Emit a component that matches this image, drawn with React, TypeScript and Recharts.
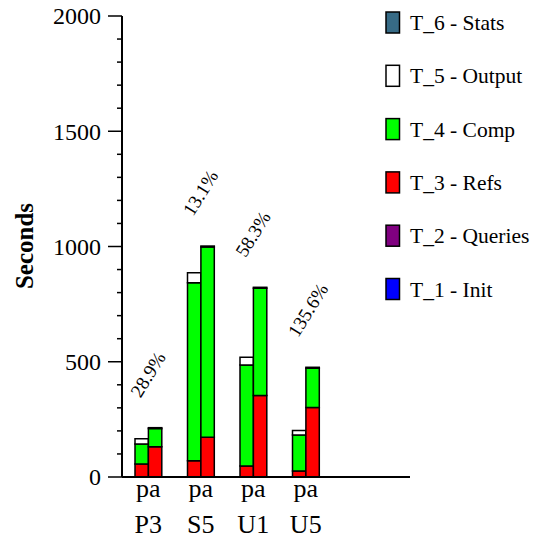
import React from 'react';
import { BarChart, Bar, XAxis, YAxis, LabelList, Label } from 'recharts';

// Benchmark categories; each has a "p" run and an "a" run stacked side by side.
const categories = ['P3', 'S5', 'U1', 'U5'];
const runTags = 'pa';

// Seconds per task for the "p" run
const pInit = [0, 0, 0, 0];
const pQueries = [0, 0, 0, 0];
const pRefs = [56, 71, 48, 26];
const pComp = [87, 772, 438, 156];
const pOutput = [23, 43, 34, 20];
const pStats = [0, 0, 0, 0];

// Seconds per task for the "a" run
const aInit = [0, 0, 0, 0];
const aQueries = [0, 0, 0, 0];
const aRefs = [131, 172, 354, 302];
const aComp = [79, 826, 465, 170];
const aOutput = [4, 4, 4, 4];
const aStats = [0, 0, 0, 0];

// Relative change of the "a" total versus the "p" total
const pctLabels = ['28.9%', '13.1%', '58.3%', '135.6%'];

const yTicks = Array.from({ length: 21 }, (_, i) => i * 100);

const tasks = [
  { key: 'init', name: 'T_1 - Init', color: '#0000ff' },
  { key: 'queries', name: 'T_2 - Queries', color: '#800080' },
  { key: 'refs', name: 'T_3 - Refs', color: '#ff0000' },
  { key: 'comp', name: 'T_4 - Comp', color: '#00ff00' },
  { key: 'output', name: 'T_5 - Output', color: '#ffffff' },
  { key: 'stats', name: 'T_6 - Stats', color: '#376b86' },
];

const pSeries: Record<string, number[]> = {
  init: pInit, queries: pQueries, refs: pRefs, comp: pComp, output: pOutput, stats: pStats,
};
const aSeries: Record<string, number[]> = {
  init: aInit, queries: aQueries, refs: aRefs, comp: aComp, output: aOutput, stats: aStats,
};

const data = categories.map((cat, i) => {
  const row: Record<string, string | number> = { cat };
  tasks.forEach((t) => {
    row['p_' + t.key] = pSeries[t.key][i];
    row['a_' + t.key] = aSeries[t.key][i];
  });
  return row;
});

const FONT = '"Liberation Serif", "Times New Roman", serif';

const YTick = (props: any) => {
  const { x, y, payload } = props;
  const v = payload.value as number;
  const major = v % 500 === 0;
  return (
    <g>
      <line x1={x - (major ? 14 : 5)} y1={y} x2={x} y2={y} stroke="#000" strokeWidth={1.5} />
      {major && (
        <text x={x - 21} y={y} dy="0.35em" textAnchor="end" fontFamily={FONT} fontSize={24} fill="#000">
          {v}
        </text>
      )}
    </g>
  );
};

const XTick = (props: any) => {
  const { x, payload } = props;
  // baseline of the axis sits at the bottom of the plot area
  const base = 477;
  return (
    <g fontFamily={FONT} fontSize={26} fill="#000">
      <text x={x} y={base + 20} textAnchor="middle">{runTags}</text>
      <text x={x} y={base + 56} textAnchor="middle">{payload.value}</text>
    </g>
  );
};

const PctLabel = (props: any) => {
  const { x, y, index } = props;
  const ax = x - 8;
  const ay = y - 29;
  return (
    <text
      x={ax}
      y={ay}
      fontFamily={FONT}
      fontSize={19}
      fill="#000"
      transform={`rotate(-58, ${ax}, ${ay})`}
    >
      {pctLabels[index]}
    </text>
  );
};

const legendOrder = [...tasks].reverse();

export default function App() {
  return (
    <div style={{ position: 'absolute', left: 0, top: 0, width: 536, height: 538, background: '#fff' }}>
      <BarChart
        width={536}
        height={538}
        data={data}
        margin={{ top: 16, right: 126, left: 0, bottom: 0 }}
        barGap={0}
        barSize={13.4}
      >
        <XAxis
          dataKey="cat"
          height={61}
          padding={{ left: 0, right: 78 }}
          tickLine={false}
          tickSize={0}
          tickMargin={0}
          axisLine={{ stroke: '#000', strokeWidth: 2 }}
          tick={<XTick />}
          interval={0}
        />
        <YAxis
          width={122}
          domain={[0, 2000]}
          ticks={yTicks}
          interval={0}
          tickLine={false}
          tickSize={0}
          tickMargin={0}
          axisLine={{ stroke: '#000', strokeWidth: 2 }}
          tick={<YTick />}
        >
          <Label
            content={() => (
              <text
                x={33}
                y={246}
                textAnchor="middle"
                fontFamily={FONT}
                fontSize={25}
                fontWeight="bold"
                fill="#000"
                transform="rotate(-90, 33, 246)"
              >
                Seconds
              </text>
            )}
          />
        </YAxis>
        {tasks.map((t) => (
          <Bar
            key={'p_' + t.key}
            dataKey={'p_' + t.key}
            stackId="p"
            fill={t.color}
            stroke="#000"
            strokeWidth={1.5}
            isAnimationActive={false}
          />
        ))}
        {tasks.map((t) => (
          <Bar
            key={'a_' + t.key}
            dataKey={'a_' + t.key}
            stackId="a"
            fill={t.color}
            stroke="#000"
            strokeWidth={1.5}
            isAnimationActive={false}
          >
            {t.key === 'output' && <LabelList content={<PctLabel />} />}
          </Bar>
        ))}
      </BarChart>
      <svg
        width={156}
        height={320}
        style={{ position: 'absolute', left: 380, top: 0 }}
      >
        {legendOrder.map((t, i) => {
          const cy = 22.5 + i * 53.3;
          return (
            <g key={t.key}>
              <rect x={6} y={cy - 10.5} width={13.5} height={21} fill={t.color} stroke="#000" strokeWidth={1.5} />
              <text x={30} y={cy} dy="0.35em" fontFamily={FONT} fontSize={21.5} fill="#000">
                {t.name}
              </text>
            </g>
          );
        })}
      </svg>
    </div>
  );
}
